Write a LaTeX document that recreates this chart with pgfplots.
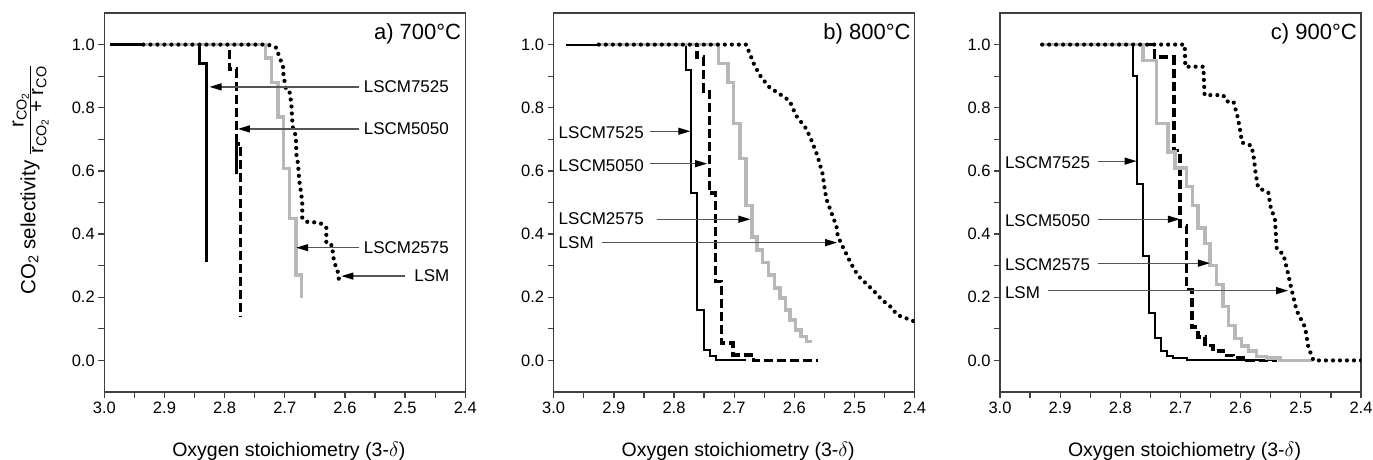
\documentclass[border=0pt]{standalone}
\usepackage{fontspec}
\setmainfont{Liberation Sans}
\usepackage{amsmath}
\usepackage{pgfplots}
\pgfplotsset{compat=1.18}
\usetikzlibrary{arrows.meta}
\definecolor{grayline}{HTML}{B8B8B8}
\definecolor{axisgray}{HTML}{404040}
\definecolor{arrowgray}{HTML}{555555}

\tikzset{
  s7525a/.style={black, line width=3pt},
  s7525/.style={black, line width=2pt},
  s5050/.style={black, line width=3.6pt, dash pattern=on 9pt off 4pt},
  s2575/.style={grayline, line width=3.5pt},
  slsm/.style={black, line width=4.2pt, line cap=round, dash pattern=on 0pt off 7pt},
  arr/.style={arrowgray, line width=1.2pt, -{Triangle[length=12pt,width=7pt,color=black]}},
  lab/.style={anchor=west, inner sep=0pt, font=\fontsize{17}{17}\selectfont},
  plab/.style={anchor=base east, inner sep=0pt, xshift=-4pt, yshift=-26pt, font=\fontsize{22}{22}\selectfont},
}
\pgfplotsset{
  panel/.style={
    scale only axis, width=361pt, height=379pt, anchor=south west,
    xmin=2.4, xmax=3.0, x dir=reverse, ymin=-0.1, ymax=1.1,
    xtick={2.4,2.5,2.6,2.7,2.8,2.9,3.0},
    ytick={0,0.2,0.4,0.6,0.8,1.0},
    minor x tick num=1, minor y tick num=1,
    tick align=outside, xtick pos=bottom, ytick pos=left,
    major tick length=6pt, minor tick length=6pt,
    axis line style={axisgray, line width=1.3pt},
    every tick/.style={axisgray, line width=1.3pt},
    /pgf/number format/assume math mode=true,
    /pgf/number format/fixed,
    /pgf/number format/fixed zerofill,
    /pgf/number format/precision=1,
    tick label style={font=\fontsize{16.5}{16.5}\selectfont},
    xlabel={Oxygen stoichiometry (3-$\delta$)},
    every axis x label/.style={at={(axis description cs:0.5,0)}, anchor=base, yshift=-64pt, xshift=4pt, font=\fontsize{19.5}{19.5}\selectfont},
  },
}

\begin{document}
\begin{tikzpicture}
% ---------------- a) 700 C ----------------
\begin{axis}[panel, at={(104.3pt,67pt)},
  ylabel={CO\textsubscript{2} selectivity\hspace{6pt}$\frac{\textstyle\text{r}_{\text{CO}_{\text{2}}}}{\textstyle\text{r}_{\text{CO}_{\text{2}}}\text{ + }\text{r}_{\text{CO}}}$},
  every axis y label/.style={at={(axis description cs:-0.191,0.56)}, rotate=90, anchor=base, font=\fontsize{20.5}{20.5}\selectfont},
]
\addplot[s7525a] coordinates {(2.99,1.0)(2.842,1.0)(2.842,0.94)(2.830,0.94)(2.830,0.312)};
\addplot[s5050] coordinates {(2.935,1.0)(2.792,1.0)(2.792,0.922)(2.7805,0.922)(2.7805,0.59)(2.7805,0.686)(2.7735,0.686)(2.7735,0.14)};
\addplot[s2575] coordinates {(2.935,1)(2.732,1)(2.732,0.957)(2.7225,0.957)(2.7225,0.88)(2.711,0.88)(2.711,0.77)(2.702,0.77)(2.702,0.607)(2.692,0.607)(2.692,0.449)(2.681,0.449)(2.681,0.27)(2.672,0.27)(2.672,0.197)};
\addplot[slsm] coordinates {(2.935,1)(2.728,1)(2.714,0.99)(2.709,0.96)(2.703,0.933)(2.702,0.90)(2.6975,0.854)(2.692,0.849)(2.689,0.812)(2.688,0.77)(2.6866,0.738)(2.682,0.712)(2.681,0.686)(2.681,0.654)(2.678,0.623)(2.676,0.57)(2.6727,0.528)(2.671,0.4965)(2.671,0.449)(2.662,0.438)(2.653,0.438)(2.645,0.435)(2.637,0.432)(2.631,0.42)(2.631,0.37)(2.621,0.364)(2.620,0.333)(2.617,0.307)(2.612,0.281)(2.610,0.255)};
\draw[arr] (axis cs:2.576,0.866) -- (axis cs:2.825,0.866);
\draw[arr] (axis cs:2.576,0.733) -- (axis cs:2.778,0.733);
\draw[arr] (axis cs:2.576,0.357) -- (axis cs:2.681,0.357);
\draw[arr] (axis cs:2.501,0.267) -- (axis cs:2.606,0.267);
\node[lab] at (axis cs:2.569,0.866) {LSCM7525};
\node[lab] at (axis cs:2.569,0.733) {LSCM5050};
\node[lab] at (axis cs:2.569,0.357) {LSCM2575};
\node[lab] at (axis cs:2.485,0.267) {LSM};
\node[plab] at (rel axis cs:1,1) {a) 700°C};
\end{axis}
% ---------------- b) 800 C ----------------
\begin{axis}[panel, at={(553.7pt,67pt)}]
\addplot[s7525] coordinates {(2.98,1)(2.780,1)(2.780,0.919)(2.7715,0.919)(2.7715,0.53)(2.761,0.53)(2.761,0.16)(2.750,0.16)(2.750,0.032)(2.740,0.032)(2.740,0.013)(2.7305,0.013)(2.7305,0)(2.68,0)};
\addplot[s5050] coordinates {(2.925,1)(2.762,1)(2.762,0.96)(2.751,0.96)(2.751,0.852)(2.741,0.852)(2.741,0.53)(2.731,0.53)(2.731,0.25)(2.721,0.25)(2.721,0.055)(2.702,0.055)(2.702,0.018)(2.668,0.018)(2.668,0)(2.56,0)};
\addplot[s2575] coordinates {(2.925,1)(2.726,1)(2.726,0.94)(2.710,0.94)(2.710,0.88)(2.701,0.88)(2.701,0.75)(2.690,0.75)(2.690,0.64)(2.680,0.64)(2.680,0.49)(2.670,0.49)(2.670,0.39)(2.662,0.39)(2.662,0.35)(2.653,0.35)(2.653,0.31)(2.643,0.31)(2.643,0.27)(2.633,0.27)(2.633,0.23)(2.624,0.23)(2.624,0.197)(2.615,0.197)(2.615,0.16)(2.607,0.16)(2.607,0.128)(2.598,0.128)(2.598,0.097)(2.589,0.097)(2.589,0.076)(2.580,0.076)(2.580,0.06)(2.571,0.06)};
\addplot[slsm] coordinates {(2.925,1)(2.68,1)(2.676,0.98)(2.666,0.933)(2.655,0.896)(2.641,0.864)(2.624,0.843)(2.608,0.822)(2.597,0.775)(2.580,0.733)(2.570,0.69)(2.561,0.644)(2.553,0.59)(2.549,0.535)(2.546,0.507)(2.535,0.45)(2.530,0.425)(2.528,0.395)(2.521,0.365)(2.513,0.335)(2.506,0.307)(2.494,0.268)(2.480,0.242)(2.468,0.22)(2.454,0.191)(2.440,0.170)(2.429,0.144)(2.415,0.134)(2.400,0.123)};
\draw[arr] (axis cs:2.84,0.7256) -- (axis cs:2.773,0.7256);
\draw[arr] (axis cs:2.84,0.623) -- (axis cs:2.745,0.623);
\draw[arr] (axis cs:2.829,0.447) -- (axis cs:2.673,0.447);
\draw[arr] (axis cs:2.92,0.373) -- (axis cs:2.529,0.373);
\node[lab] at (axis cs:2.992,0.72) {LSCM7525};
\node[lab] at (axis cs:2.992,0.617) {LSCM5050};
\node[lab] at (axis cs:2.992,0.449) {LSCM2575};
\node[lab] at (axis cs:2.992,0.373) {LSM};
\node[plab] at (rel axis cs:1,1) {b) 800°C};
\end{axis}
% ---------------- c) 900 C ----------------
\begin{axis}[panel, at={(1000pt,67pt)}]
\addplot[s7525] coordinates {(2.93,1)(2.779,1)(2.779,0.899)(2.772,0.899)(2.772,0.56)(2.762,0.56)(2.762,0.331)(2.752,0.331)(2.752,0.149)(2.743,0.149)(2.743,0.07)(2.732,0.07)(2.732,0.03)(2.723,0.03)(2.723,0.015)(2.712,0.015)(2.712,0.008)(2.69,0.008)(2.69,0)(2.54,0)};
\addplot[s5050] coordinates {(2.93,1)(2.743,1)(2.743,0.96)(2.711,0.96)(2.711,0.665)(2.701,0.665)(2.701,0.425)(2.690,0.425)(2.690,0.225)(2.681,0.225)(2.681,0.105)(2.671,0.105)(2.671,0.074)(2.659,0.074)(2.659,0.047)(2.646,0.047)(2.646,0.03)(2.629,0.03)(2.629,0.016)(2.612,0.016)(2.612,0.008)(2.59,0.008)(2.59,0)(2.54,0)};
\addplot[s2575] coordinates {(2.93,1)(2.762,1)(2.762,0.95)(2.740,0.95)(2.740,0.75)(2.7205,0.75)(2.7205,0.66)(2.709,0.66)(2.709,0.61)(2.690,0.61)(2.690,0.55)(2.680,0.55)(2.680,0.49)(2.6706,0.49)(2.6706,0.42)(2.6595,0.42)(2.6595,0.37)(2.651,0.37)(2.651,0.30)(2.640,0.30)(2.640,0.24)(2.629,0.24)(2.629,0.17)(2.6206,0.17)(2.6206,0.11)(2.6095,0.11)(2.6095,0.07)(2.5984,0.07)(2.5984,0.045)(2.587,0.045)(2.587,0.03)(2.5735,0.03)(2.5735,0.013)(2.557,0.013)(2.557,0.008)(2.535,0.008)(2.535,0)(2.479,0)};
\addplot[slsm] coordinates {(2.93,1)(2.693,1)(2.692,0.93)(2.662,0.93)(2.660,0.84)(2.629,0.84)(2.623,0.82)(2.612,0.82)(2.605,0.77)(2.600,0.72)(2.598,0.69)(2.582,0.68)(2.578,0.64)(2.575,0.59)(2.571,0.547)(2.554,0.531)(2.550,0.484)(2.543,0.447)(2.540,0.352)(2.529,0.336)(2.521,0.273)(2.515,0.221)(2.507,0.158)(2.493,0.105)(2.4875,0.042)(2.479,0.0)(2.40,0)};
\draw[arr] (axis cs:2.837,0.631) -- (axis cs:2.773,0.631);
\draw[arr] (axis cs:2.837,0.447) -- (axis cs:2.701,0.447);
\draw[arr] (axis cs:2.837,0.308) -- (axis cs:2.651,0.308);
\draw[arr] (axis cs:2.920,0.221) -- (axis cs:2.521,0.221);
\node[lab] at (axis cs:2.992,0.625) {LSCM7525};
\node[lab] at (axis cs:2.992,0.441) {LSCM5050};
\node[lab] at (axis cs:2.992,0.302) {LSCM2575};
\node[lab] at (axis cs:2.992,0.215) {LSM};
\node[plab] at (rel axis cs:1,1) {c) 900°C};
\end{axis}
\pgfresetboundingbox
\path[use as bounding box] (0pt,0pt) rectangle (1373pt,459pt);
\end{tikzpicture}
\end{document}
